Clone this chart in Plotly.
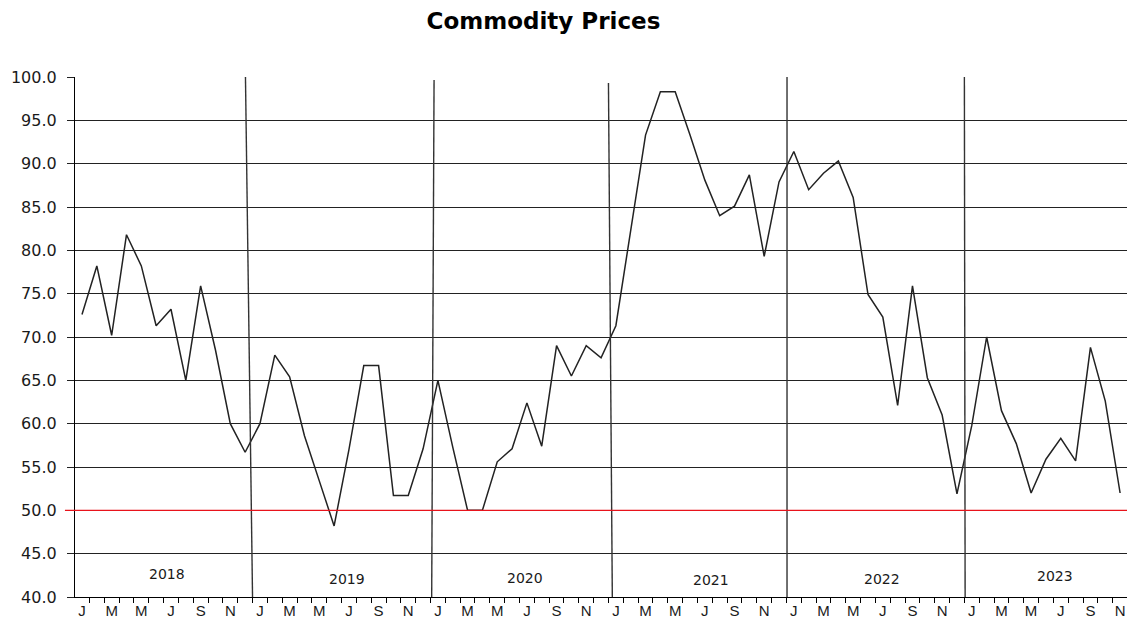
import plotly.graph_objects as go

# ---------------- data ----------------
years = [2018, 2019, 2020, 2021, 2022, 2023]
month_initials = ["J", "F", "M", "A", "M", "J", "J", "A", "S", "O", "N", "D"]

prices_2018 = [72.6, 78.2, 70.2, 81.8, 78.2, 71.3, 73.2, 65.0, 75.9, 68.5, 60.0, 56.7]
prices_2019 = [60.0, 67.9, 65.4, 58.6, 53.4, 48.2, 57.0, 66.7, 66.7, 51.7, 51.7, 57.1]
prices_2020 = [65.0, 57.3, 50.0, 50.0, 55.6, 57.1, 62.4, 57.4, 69.0, 65.5, 69.0, 67.6]
prices_2021 = [71.3, 82.4, 93.3, 98.3, 98.3, 93.3, 88.1, 84.0, 85.1, 88.7, 79.3, 87.9]
prices_2022 = [91.4, 87.0, 88.9, 90.3, 86.1, 74.9, 72.3, 62.1, 75.9, 65.3, 61.0, 51.9]
prices_2023 = [59.8, 70.0, 61.5, 57.7, 52.0, 55.9, 58.3, 55.7, 68.8, 62.6, 52.0]

threshold = 50.0

prices = prices_2018 + prices_2019 + prices_2020 + prices_2021 + prices_2022 + prices_2023
month_index = list(range(len(prices)))

# ---------------- layout helpers (positions/styles) ----------------
n_months = 12 * len(years)
tick_vals = [i for i in range(n_months) if i % 2 == 0]
tick_text = [month_initials[i % 12] for i in tick_vals]

# year label placement (month coordinate, y value)
year_label_x = [5.73, 17.87, 29.87, 42.41, 53.94, 65.6]
year_label_y = [42.6, 42.1, 42.15, 41.95, 42.05, 42.45]

# year divider lines: (top x, top y, bottom x) in month coords
dividers = [(11.02, 100.3, 11.5), (23.74, 99.65, 23.58), (35.5, 99.3, 35.76),
            (47.54, 100.3, 47.54), (59.5, 100.2, 59.55)]

fig = go.Figure()
fig.add_trace(go.Scatter(
    x=month_index, y=prices, mode="lines",
    line=dict(color="#222222", width=1.5),
    showlegend=False, hoverinfo="y"))

shapes = []
for (xt, yt, xb) in dividers:
    shapes.append(dict(type="line", xref="x", yref="y", x0=xt, y0=yt, x1=xb, y1=40,
                       line=dict(color="#333333", width=1.4), layer="above"))
shapes.append(dict(type="line", xref="paper", yref="y", x0=-0.0095, x1=1,
                   y0=threshold, y1=threshold, line=dict(color="#e8131b", width=1.4),
                   layer="above"))

annotations = []
for yr, xl, yl in zip(years, year_label_x, year_label_y):
    annotations.append(dict(x=xl, y=yl, xref="x", yref="y", text=str(yr),
                            showarrow=False,
                            font=dict(family="DejaVu Sans", size=14, color="#1a1a1a")))

# page body has an 8px margin, so the figure is offset by 8px
fig.update_layout(
    width=1127, height=610,
    margin=dict(l=67, r=2, t=69, b=21, autoexpand=False),
    paper_bgcolor="white", plot_bgcolor="white",
    title=dict(text="<b>Commodity Prices</b>", x=535.5 / 1127, xref="container",
               xanchor="center", y=1 - 13 / 610, yref="container", yanchor="middle",
               font=dict(family="DejaVu Sans", size=23, color="black")),
    shapes=shapes, annotations=annotations,
    xaxis=dict(range=[-0.472, 70.87], tickmode="array", tickvals=tick_vals,
               ticktext=tick_text, ticks="outside", ticklen=0, showgrid=False,
               showline=True, linecolor="black", linewidth=1.2, zeroline=False,
               tickfont=dict(family="Arial", size=15, color="#1a1a1a"),
               minor=dict(tick0=-0.5, dtick=1, ticks="outside", ticklen=5,
                          tickcolor="black", tickwidth=1.2, showgrid=False),
               automargin=False),
    yaxis=dict(range=[40, 100], dtick=5, tick0=40, tickformat=".1f",
               ticks="outside", ticklen=7, tickcolor="#222", tickwidth=1.2,
               showgrid=True, gridcolor="#222", gridwidth=1.2,
               showline=True, linecolor="black", linewidth=1.2, zeroline=False,
               tickfont=dict(family="DejaVu Sans", size=16, color="#1a1a1a"),
               ticklabelstandoff=7, automargin=False),
)

fig.write_html("out.html")
